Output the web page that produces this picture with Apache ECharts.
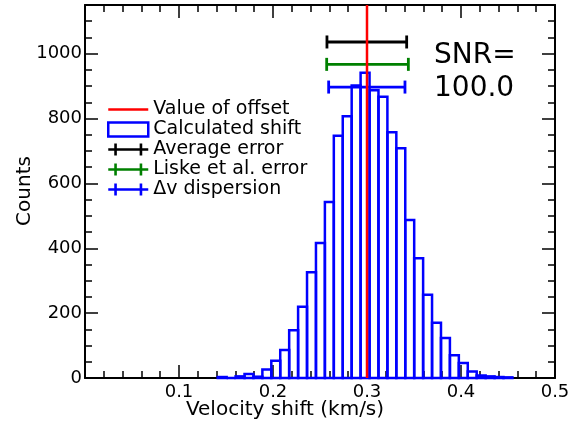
<!DOCTYPE html>
<html lang="en">
<head>
  <meta charset="UTF-8">
  <title>Velocity shift histogram</title>
  <style>
    html, body { margin: 0; padding: 0; background: #fff; }
    #chart { width: 587px; height: 425px; }
  </style>
</head>
<body>
  <div id="chart"></div>
  <script src="https://cdn.jsdelivr.net/npm/echarts@6/dist/echarts.min.js"></script>
  <script>
    // histogram: first bin edge, bin width, counts per bin
    const binStart = 0.1412
    const binWidth = 0.0095
    const counts = [
      3, 0, 5, 12, 4, 26, 53, 86, 147, 220,
      326, 416, 543, 747, 807, 902, 941, 887, 867, 758,
      708, 487, 369, 257, 170, 123, 70, 46, 20, 8,
      5, 3, 2
    ]

    // error bars: [count level, low, high]
    const avgError = [1036, 0.2574, 0.3422]
    const liskeError = [967, 0.2571, 0.3440]
    const dispersion = [897, 0.2592, 0.3404]

    const offsetValue = 0.3
    const snrText = ['SNR=', '100.0']

    const xTicks = { min: 0, max: 0.5, step: 0.1 }
    const yTicks = { min: 0, max: 1150, major: 200, minor: 50 }

    const font = '"DejaVu Sans", sans-serif'
    const chart = echarts.init(document.getElementById('chart'))

    const bins = counts.map((c, i) => [binStart + i * binWidth, binStart + (i + 1) * binWidth, c])

    function renderBar (params, api) {
      const p0 = api.coord([api.value(0), api.value(2)])
      const p1 = api.coord([api.value(1), 0])
      return {
        type: 'rect',
        shape: { x: p0[0], y: p0[1], width: p1[0] - p0[0], height: p1[1] - p0[1] },
        style: { fill: 'none', stroke: '#0000ff', lineWidth: 2.5 }
      }
    }

    function errorRenderer (color) {
      return function (params, api) {
        const a = api.coord([api.value(1), api.value(0)])
        const b = api.coord([api.value(2), api.value(0)])
        const st = { stroke: color, lineWidth: 2.8 }
        return {
          type: 'group',
          children: [
            { type: 'line', shape: { x1: a[0], y1: a[1], x2: b[0], y2: b[1] }, style: st },
            { type: 'line', shape: { x1: a[0], y1: a[1] - 6.5, x2: a[0], y2: a[1] + 6.5 }, style: st },
            { type: 'line', shape: { x1: b[0], y1: b[1] - 6.5, x2: b[0], y2: b[1] + 6.5 }, style: st }
          ]
        }
      }
    }

    const errIcon = 'path://M0,4.8H40V7.2H0Z M6,0H8.6V12H6Z M31.4,0H34V12H31.4Z'
    const lineIcon = 'path://M0,0H40V2.6H0Z'

    function xAxisOf (pos, labels) {
      return {
        type: 'value', position: pos, min: xTicks.min, max: xTicks.max, interval: xTicks.step,
        axisLine: { show: true, onZero: false, lineStyle: { color: '#000', width: 2 } },
        axisTick: { show: true, inside: true, length: 13, lineStyle: { color: '#000', width: 1.5 } },
        minorTick: { show: true, splitNumber: 5, length: 7, lineStyle: { color: '#000', width: 1.5 } },
        splitLine: { show: false },
        axisLabel: {
          show: labels, margin: 5, color: '#000', fontSize: 18, fontFamily: font,
          formatter: v => v === 0 ? '' : v.toFixed(1)
        }
      }
    }

    function yAxisOf (pos, step, len, labels, line) {
      return {
        type: 'value', position: pos, min: yTicks.min, max: yTicks.max, interval: step,
        axisLine: { show: line, onZero: false, lineStyle: { color: '#000', width: 2 } },
        axisTick: { show: true, inside: true, length: len, lineStyle: { color: '#000', width: 1.5 } },
        splitLine: { show: false },
        axisLabel: {
          show: labels, margin: 3, color: '#000', fontSize: 18, fontFamily: font,
          formatter: v => v % yTicks.major === 0 ? String(v) : ''
        }
      }
    }

    chart.setOption({
      animation: false,
      grid: { left: 85, right: 32, top: 5, bottom: 47 },
      xAxis: [xAxisOf('bottom', true), xAxisOf('top', false)],
      yAxis: [
        yAxisOf('left', yTicks.minor, 7, true, true),
        yAxisOf('left', yTicks.major, 13, false, false),
        yAxisOf('right', yTicks.minor, 7, false, true),
        yAxisOf('right', yTicks.major, 13, false, false)
      ],
      legend: {
        orient: 'vertical', left: 107, top: 100, padding: 0,
        itemWidth: 40, itemHeight: 14, itemGap: 1,
        textStyle: { color: '#000', fontSize: 19, fontFamily: font },
        data: [
          { name: 'Value of offset', icon: lineIcon, itemStyle: { color: '#ff0000', borderWidth: 0 } },
          { name: 'Calculated shift', icon: 'rect', itemStyle: { color: '#fff', borderColor: '#0000ff', borderWidth: 2.5 } },
          { name: 'Average error', icon: errIcon, itemStyle: { color: '#000', borderWidth: 0 } },
          { name: 'Liske et al. error', icon: errIcon, itemStyle: { color: '#008000', borderWidth: 0 } },
          { name: 'Δv dispersion', icon: errIcon, itemStyle: { color: '#0000ff', borderWidth: 0 } }
        ]
      },
      series: [
        {
          name: 'Calculated shift', type: 'custom', renderItem: renderBar,
          encode: { x: [0, 1], y: 2 }, data: bins, z: 2,
          itemStyle: { color: '#0000ff' }
        },
        {
          name: 'Average error', type: 'custom', renderItem: errorRenderer('#000'),
          encode: { x: [1, 2], y: 0 }, data: [avgError], z: 3, itemStyle: { color: '#000' }
        },
        {
          name: 'Liske et al. error', type: 'custom', renderItem: errorRenderer('#008000'),
          encode: { x: [1, 2], y: 0 }, data: [liskeError], z: 3, itemStyle: { color: '#008000' }
        },
        {
          name: 'Δv dispersion', type: 'custom', renderItem: errorRenderer('#0000ff'),
          encode: { x: [1, 2], y: 0 }, data: [dispersion], z: 3, itemStyle: { color: '#0000ff' }
        },
        {
          name: 'Value of offset', type: 'line', symbol: 'none', z: 5,
          data: [[offsetValue, yTicks.min], [offsetValue, yTicks.max]],
          lineStyle: { color: '#ff0000', width: 2.5 }, itemStyle: { color: '#ff0000' }
        }
      ],
      graphic: [
        { type: 'text', x: 434, y: 56, style: { text: snrText[0], font: '28px ' + font, fill: '#000', verticalAlign: 'middle' } },
        { type: 'text', x: 434, y: 89, style: { text: snrText[1], font: '28px ' + font, fill: '#000', verticalAlign: 'middle' } },
        { type: 'text', x: 25, y: 191, rotation: Math.PI / 2, style: { text: 'Counts', font: '20px ' + font, fill: '#000', align: 'center', verticalAlign: 'middle' } },
        { type: 'text', x: 285, y: 410, style: { text: 'Velocity shift (km/s)', font: '20px ' + font, fill: '#000', align: 'center', verticalAlign: 'middle' } }
      ]
    })
  </script>
</body>
</html>
